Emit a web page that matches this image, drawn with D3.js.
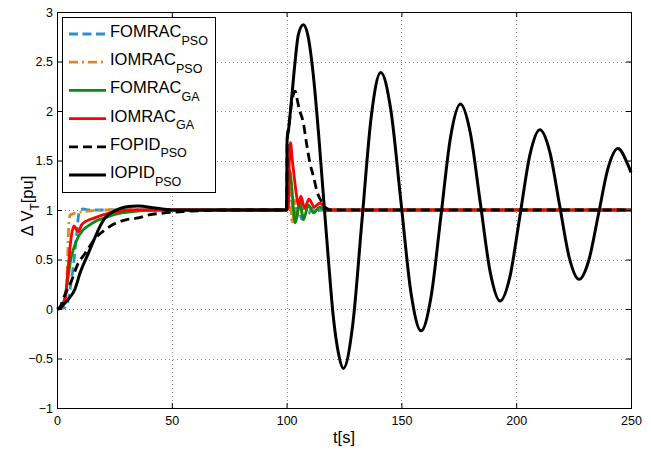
<!DOCTYPE html>
<html>
<head>
<meta charset="utf-8">
<script src="https://cdn.jsdelivr.net/npm/d3@7"></script>
<style>
  body { margin: 0; background: #fff; }
  svg text { font-family: "Liberation Sans", Arial, sans-serif; fill: #000; }
</style>
</head>
<body>
<div id="chart"></div>
<script>
// Data: [t (s), delta V_T (pu)]
var FOMRAC_PSO = [[0,0],[3,0.01],[4.9,0.09],[6,0.25],[7.1,0.43],[8.6,0.76],[9.6,0.97],[11.5,1.01],[14,1.0],[100,1.0],
  [100.5,1.2],[101.5,1.3],[102.5,1.05],[103.5,0.95],[105,1.08],[106.5,0.91],[108,1.04],[109.5,0.96],[111,1.02],[113,0.99],[115,1.0],[250,1.0]];

var IOMRAC_PSO = [[0,0],[2,0.02],[3.5,0.1],[4.2,0.25],[4.7,0.55],[5.2,0.88],[5.8,0.95],[8,0.97],[12,0.985],[20,1.0],[100,1.0],
  [100.5,1.25],[101.5,1.15],[102.5,0.86],[103.5,1.1],[104.5,0.92],[105.5,1.05],[107,0.95],[108.5,1.02],[110,0.99],[112,1.0],[250,1.0]];

var FOMRAC_GA = [[0,0],[2,0.03],[3.5,0.12],[4.9,0.33],[6,0.5],[7.1,0.6],[9.3,0.73],[11,0.79],[13.6,0.84],[17,0.89],[20.9,0.92],
  [24.5,0.95],[28.2,0.97],[35,0.99],[42.7,1.0],[100,1.0],
  [100.6,1.15],[101.3,1.4],[102.2,1.25],[103,1.0],[103.7,0.87],[104.6,0.95],[105.8,1.1],[107.3,0.9],[109.5,1.05],[111.7,0.97],
  [114.5,1.03],[117,0.99],[120,1.0],[250,1.0]];

var IOMRAC_GA = [[0,0],[2,0.02],[3.5,0.09],[4.9,0.43],[6.4,0.76],[7.4,0.84],[8,0.82],[9.3,0.78],[10.7,0.85],[13,0.89],[16.5,0.92],
  [20,0.95],[25.3,0.98],[32,1.0],[100,1.0],
  [100.8,1.02],[101.2,1.5],[101.7,1.68],[102.5,1.5],[103.5,1.3],[104.5,1.12],[105.2,1.05],[106.2,1.14],[107.8,1.02],[109.8,1.11],
  [112,1.03],[114.5,1.07],[117,1.02],[120,1.0],[250,1.0]];

var FOPID_PSO = [[0,0],[1.3,0.02],[3,0.12],[6.4,0.29],[9,0.45],[12.2,0.56],[16.5,0.71],[20.9,0.8],[25,0.86],[30,0.9],[35.4,0.92],
  [40,0.95],[47,0.97],[55,0.985],[65,0.995],[75,1.0],[100,1.0],
  [100.3,1.75],[101,1.85],[102,2.05],[103,2.17],[103.8,2.2],[104.4,2.14],[105.5,2.02],[107.3,1.88],[108.7,1.67],[110.2,1.47],
  [111.7,1.34],[113.1,1.2],[115.3,1.08],[116.7,1.03],[119,1.0],[250,1.0]];

var IOPID_PSO = [[0,0],[0.6,0.0],[3,0.05],[5,0.1],[7.8,0.2],[10,0.36],[13.6,0.56],[16.5,0.72],[18,0.8],[20.9,0.92],[22.3,0.95],
  [25,0.99],[28.2,1.02],[31,1.035],[35.4,1.04],[42.7,1.02],[50,1.0],[100,1.0],
  [100.2,1.7],[100.8,1.8],[102.2,2.13],[103.7,2.5],[105.1,2.77],[107.3,2.87],[109.3,2.76],[111.6,2.37],[114,1.75],[116.1,1.12],
  [118.2,0.5],[120.4,-0.09],[122.6,-0.45],[124.7,-0.6],[128.8,-0.16],[132.85,0.9],[136.9,1.95],[141,2.39],
  [145.4,2.01],[149.8,1.085],[154.2,0.16],[158.6,-0.22],[162.9,0.12],[167.15,0.925],[171.4,1.735],[175.7,2.07],
  [180,1.78],[184.35,1.075],[188.7,0.37],[193,0.08],[197.3,0.33],[201.65,0.945],[206,1.56],[210.3,1.81],
  [214.6,1.59],[218.85,1.055],[223.1,0.52],[227.4,0.3],[231.6,0.49],[235.85,0.96],[240.1,1.43],[244.3,1.62],
  [248.6,1.46],[250,1.38]];

var seriesNames = ["FOMRAC", "IOMRAC", "FOMRAC", "IOMRAC", "FOPID", "IOPID"];
var seriesSubs = ["PSO", "PSO", "GA", "GA", "PSO", "PSO"];
var seriesData = [FOMRAC_PSO, IOMRAC_PSO, FOMRAC_GA, IOMRAC_GA, FOPID_PSO, IOPID_PSO];

var xTicks = [0, 50, 100, 150, 200, 250];
var yTicks = [-1, -0.5, 0, 0.5, 1, 1.5, 2, 2.5, 3];

// styles
var colors = ["#2a90d6", "#dc8a1e", "#0c8a12", "#ff0000", "#000000", "#000000"];
var dashes = ["9,4.5", "9,4,2,4", null, null, "9,5", null];
var widths = [2.8, 2.8, 2.8, 2.8, 2.8, 3];

var W = 651, H = 451;
var mLeft = 57, mRight = 631, mTop = 12, mBottom = 408;

var svg = d3.select("#chart").append("svg")
    .attr("width", W)
    .attr("height", H);

svg.append("rect").attr("width", W).attr("height", H).attr("fill", "#fff");

var x = d3.scaleLinear().domain([0, 250]).range([mLeft, mRight]);
var y = d3.scaleLinear().domain([-1, 3]).range([mBottom, mTop]);

// dotted grid
var grid = svg.append("g").attr("stroke", "#8a8a8a").attr("stroke-width", 1).attr("stroke-dasharray", "1,3");
grid.selectAll(".gx").data(xTicks.slice(1, -1)).enter().append("line")
    .attr("x1", (d) => Math.round(x(d)) + 0.5).attr("x2", (d) => Math.round(x(d)) + 0.5)
    .attr("y1", mTop).attr("y2", mBottom);
grid.selectAll(".gy").data(yTicks.slice(1, -1)).enter().append("line")
    .attr("y1", (d) => Math.round(y(d)) + 0.5).attr("y2", (d) => Math.round(y(d)) + 0.5)
    .attr("x1", mLeft).attr("x2", mRight);

// curves
var line = d3.line()
    .x((d) => x(d[0]))
    .y((d) => y(d[1]))
    .curve(d3.curveMonotoneX);

var plot = svg.append("g");
seriesData.forEach((s, i) => {
    plot.append("path")
        .datum(s)
        .attr("fill", "none")
        .attr("stroke", colors[i])
        .attr("stroke-width", widths[i])
        .attr("stroke-dasharray", dashes[i])
        .attr("stroke-linejoin", "round")
        .attr("d", line);
});

// axes (ticks inside, MATLAB style)
var fmt = d3.format("");
svg.append("g")
    .attr("transform", "translate(0," + mBottom + ")")
    .call(d3.axisBottom(x).tickValues(xTicks).tickSizeInner(-5).tickSizeOuter(0).tickPadding(8).tickFormat(fmt));
svg.append("g")
    .attr("transform", "translate(" + mLeft + ",0)")
    .call(d3.axisLeft(y).tickValues(yTicks).tickSizeInner(-5).tickSizeOuter(0).tickPadding(4).tickFormat(fmt));
svg.append("g")
    .attr("transform", "translate(0," + mTop + ")")
    .call(d3.axisTop(x).tickValues(xTicks).tickSizeInner(-5).tickSizeOuter(0).tickFormat(""));
svg.append("g")
    .attr("transform", "translate(" + mRight + ",0)")
    .call(d3.axisRight(y).tickValues(yTicks).tickSizeInner(-5).tickSizeOuter(0).tickFormat(""));

svg.selectAll(".tick text").attr("font-size", 12.5).attr("font-family", "Liberation Sans, Arial, sans-serif");
svg.selectAll(".domain").remove();

svg.append("rect")
    .attr("x", mLeft + 0.5).attr("y", mTop + 0.5)
    .attr("width", mRight - mLeft).attr("height", mBottom - mTop)
    .attr("fill", "none").attr("stroke", "#000").attr("stroke-width", 1);

// axis labels
svg.append("text")
    .attr("x", (mLeft + mRight) / 2).attr("y", 443)
    .attr("text-anchor", "middle").attr("font-size", 16.5)
    .text("t[s]");

var yl = svg.append("text")
    .attr("transform", "translate(33,206) rotate(-90)")
    .attr("text-anchor", "middle").attr("font-size", 16.5);
yl.append("tspan").text("\u0394 V");
yl.append("tspan").attr("dy", 5.5).attr("font-size", 12).text("T");
yl.append("tspan").attr("dy", -5.5).text("[pu]");

// legend
var lg = svg.append("g");
lg.append("rect")
    .attr("x", 62.5).attr("y", 17.5).attr("width", 153).attr("height", 175)
    .attr("fill", "#fff").attr("stroke", "#000").attr("stroke-width", 1);

seriesNames.forEach((n, i) => {
    var ry = 34 + i * 28.2;
    lg.append("line")
        .attr("x1", 69).attr("x2", 106).attr("y1", ry).attr("y2", ry)
        .attr("stroke", colors[i]).attr("stroke-width", widths[i])
        .attr("stroke-dasharray", dashes[i]);
    var t = lg.append("text").attr("x", 110).attr("y", ry + 3).attr("font-size", 16.5);
    t.append("tspan").text(n);
    t.append("tspan").attr("dy", 7.5).attr("font-size", 12.5).text(seriesSubs[i]);
});
</script>
</body>
</html>
